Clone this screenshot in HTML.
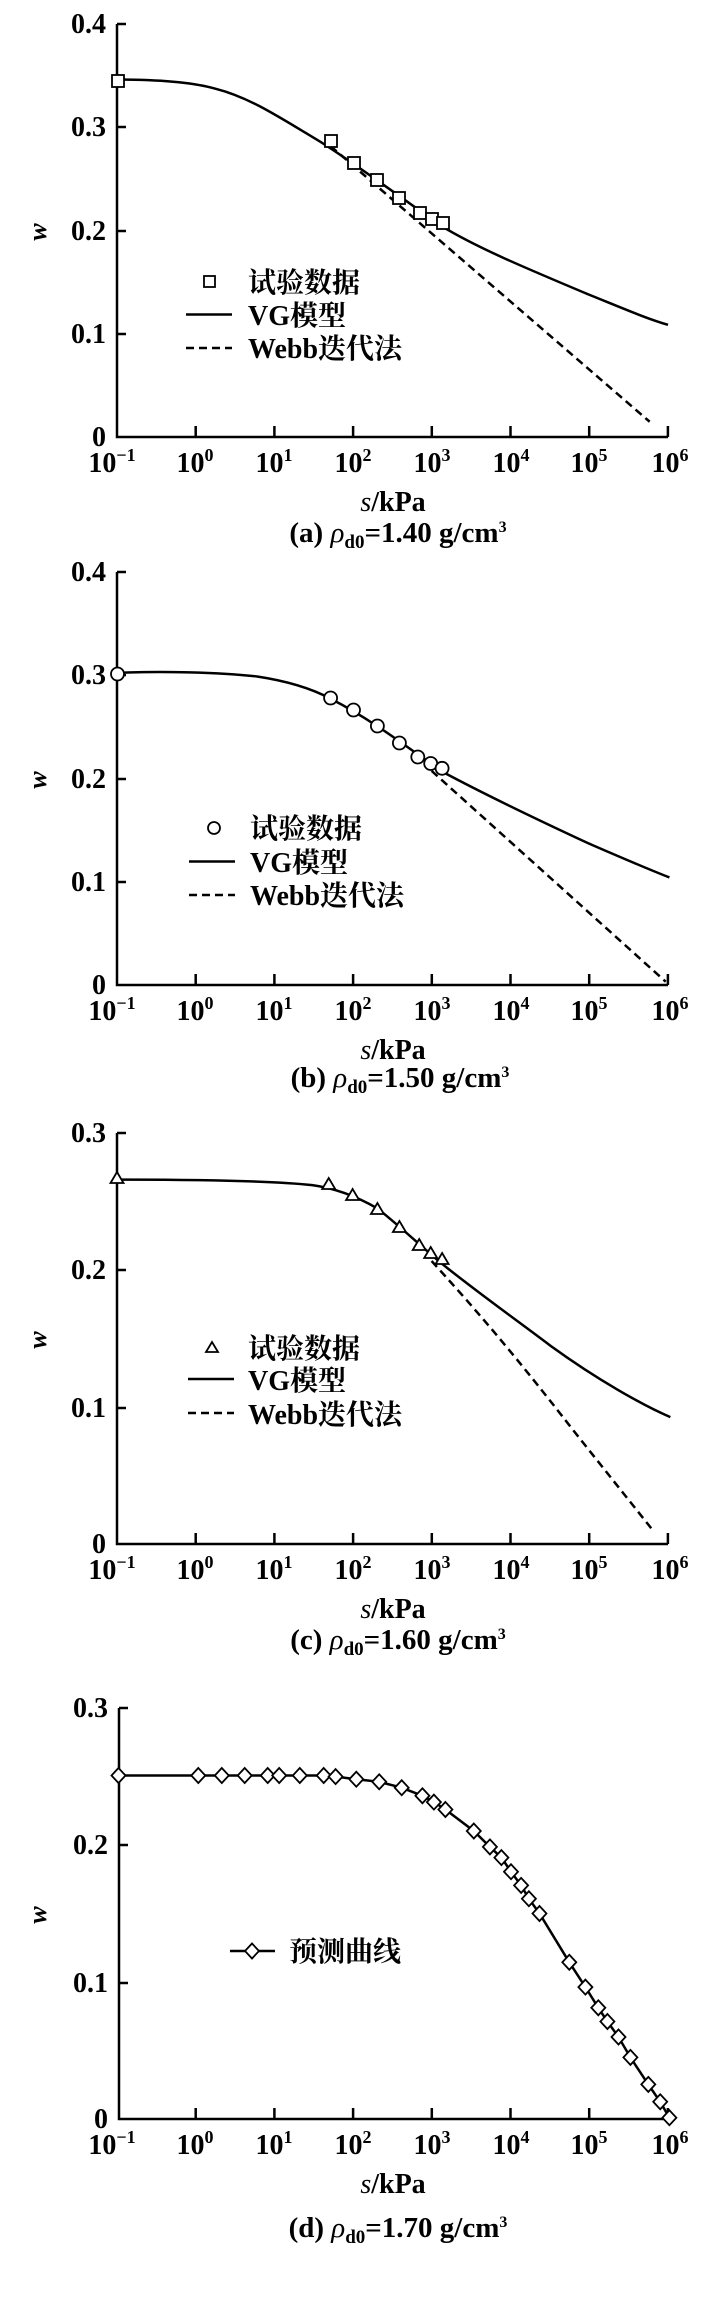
<!DOCTYPE html>
<html><head><meta charset="utf-8"><style>
html,body{margin:0;padding:0;background:#fff;}
svg{display:block;}
text{font-family:"Liberation Serif","Noto Serif CJK SC",serif;font-weight:bold;fill:#000;}
.cjk{font-family:"Liberation Serif","Noto Serif CJK SC","Noto Sans CJK SC",serif;}
.tk{font-size:28px;}
.sup{font-size:18px;}
.ln{fill:none;stroke:#000;stroke-width:2.5;vector-effect:non-scaling-stroke;}
.ds{fill:none;stroke:#000;stroke-width:2.5;stroke-dasharray:8 5;vector-effect:non-scaling-stroke;}
.ax{fill:none;stroke:#000;stroke-width:2.5;}
.mk{fill:#fff;stroke:#000;stroke-width:1.8;}
</style></head><body>
<svg width="720" height="2301" viewBox="0 0 720 2301" xmlns="http://www.w3.org/2000/svg">
<defs>
<g id="xt">
<path class="ax" d="M195.7 0v-11M274.4 0v-11M353.1 0v-11M431.8 0v-11M510.5 0v-11M589.2 0v-11M667.9 0v-11"/>
<g class="tk">
<text x="112" y="35" text-anchor="middle">10<tspan class="sup" dy="-11">−1</tspan></text>
<text x="195" y="35" text-anchor="middle">10<tspan class="sup" dy="-11">0</tspan></text>
<text x="274" y="35" text-anchor="middle">10<tspan class="sup" dy="-11">1</tspan></text>
<text x="353" y="35" text-anchor="middle">10<tspan class="sup" dy="-11">2</tspan></text>
<text x="432" y="35" text-anchor="middle">10<tspan class="sup" dy="-11">3</tspan></text>
<text x="511" y="35" text-anchor="middle">10<tspan class="sup" dy="-11">4</tspan></text>
<text x="589" y="35" text-anchor="middle">10<tspan class="sup" dy="-11">5</tspan></text>
<text x="670" y="35" text-anchor="middle">10<tspan class="sup" dy="-11">6</tspan></text>
</g>
<text x="393" y="74" text-anchor="middle" font-size="28"><tspan font-style="italic" font-weight="normal">s</tspan>/kPa</text>
</g>
</defs>

<!-- Chart a -->
<path class="ax" d="M117 24V437H668M117 24h9M117 127h9M117 231h9M117 334h9"/>
<g class="tk" text-anchor="end">
<text x="106" y="33">0.4</text><text x="106" y="136">0.3</text><text x="106" y="240">0.2</text><text x="106" y="343">0.1</text><text x="106" y="446">0</text>
</g>
<text transform="translate(46,232) rotate(-90)" text-anchor="middle" font-size="26" font-style="italic" font-weight="normal">w</text>
<use href="#xt" y="437"/>
<text x="398" y="542" text-anchor="middle" font-size="29" class="cjk">(a) <tspan font-style="italic" font-weight="normal">ρ</tspan><tspan font-size="19" dy="6">d0</tspan><tspan dy="-6">=1.40 g/cm</tspan><tspan font-size="16" dy="-10">3</tspan></text>
<g transform="scale(0.45914,0.36996)">
<path class="ln" d="M255 215 C340 215 420 222 470 240 C540 262 600 310 700 385 C770 440 870 530 960 610 C1040 670 1140 722 1280 795 C1360 835 1410 862 1455 878"/>
<path class="ds" d="M720 395 L1415 1140"/>
</g>
<g class="mk">
<rect x="112" y="75" width="12" height="12"/><rect x="325" y="135" width="12" height="12"/><rect x="348" y="157" width="12" height="12"/><rect x="371" y="174" width="12" height="12"/><rect x="393" y="192" width="12" height="12"/><rect x="414" y="207" width="12" height="12"/><rect x="426" y="213" width="12" height="12"/><rect x="437" y="217" width="12" height="12"/>
<rect x="204" y="276" width="11" height="11"/>
</g>
<path class="ax" d="M186 314.5h46"/><path class="ax" stroke-dasharray="8 5" d="M186 348h46"/>
<g font-size="28" class="cjk"><text x="248" y="292">试验数据</text><text x="248" y="325">VG模型</text><text x="248" y="358">Webb迭代法</text></g>

<!-- Chart b -->
<path class="ax" d="M117 572V985H668M117 572h9M117 675h9M117 779h9M117 882h9"/>
<g class="tk" text-anchor="end">
<text x="106" y="581">0.4</text><text x="106" y="684">0.3</text><text x="106" y="788">0.2</text><text x="106" y="891">0.1</text><text x="106" y="994">0</text>
</g>
<text transform="translate(46,780) rotate(-90)" text-anchor="middle" font-size="26" font-style="italic" font-weight="normal">w</text>
<use href="#xt" y="985"/>
<text x="400" y="1087" text-anchor="middle" font-size="29" class="cjk">(b) <tspan font-style="italic" font-weight="normal">ρ</tspan><tspan font-size="19" dy="6">d0</tspan><tspan dy="-6">=1.50 g/cm</tspan><tspan font-size="16" dy="-10">3</tspan></text>
<g transform="translate(0,560) scale(0.45914,0.36996)">
<path class="ln" d="M255 305 C350 300 480 303 560 315 C640 330 690 355 720 375 C800 425 870 490 960 570 C1050 630 1150 690 1280 765 C1360 808 1410 835 1458 858"/>
<path class="ds" d="M940 570 L1450 1140"/>
</g>
<g class="mk">
<circle cx="117.5" cy="674" r="6.5"/><circle cx="330.6" cy="698" r="6.5"/><circle cx="353.5" cy="710" r="6.5"/><circle cx="377.4" cy="726" r="6.5"/><circle cx="399.4" cy="743" r="6.5"/><circle cx="417.8" cy="757" r="6.5"/><circle cx="430.7" cy="763.5" r="6.5"/><circle cx="442.1" cy="768.3" r="6.5"/>
<circle cx="214" cy="828" r="6"/>
</g>
<path class="ax" d="M189 861.5h46"/><path class="ax" stroke-dasharray="8 5" d="M189 895h46"/>
<g font-size="28" class="cjk"><text x="250" y="838">试验数据</text><text x="250" y="872">VG模型</text><text x="250" y="905">Webb迭代法</text></g>

<!-- Chart c -->
<path class="ax" d="M117 1133V1544H668M117 1133h9M117 1270h9M117 1408h9"/>
<g class="tk" text-anchor="end">
<text x="106" y="1142">0.3</text><text x="106" y="1279">0.2</text><text x="106" y="1417">0.1</text><text x="106" y="1553">0</text>
</g>
<text transform="translate(46,1340) rotate(-90)" text-anchor="middle" font-size="26" font-style="italic" font-weight="normal">w</text>
<use href="#xt" y="1544"/>
<text x="398" y="1649" text-anchor="middle" font-size="29" class="cjk">(c) <tspan font-style="italic" font-weight="normal">ρ</tspan><tspan font-size="19" dy="6">d0</tspan><tspan dy="-6">=1.60 g/cm</tspan><tspan font-size="16" dy="-10">3</tspan></text>
<g transform="translate(0,1150) scale(0.45914,0.36996)">
<path class="ln" d="M255 80 C450 80 600 84 680 95 C740 105 790 135 822 158 C870 205 915 258 960 305 C1040 385 1120 455 1200 530 C1300 620 1400 690 1460 722"/>
<path class="ds" d="M940 300 C1020 410 1100 520 1250 760 L1420 1025"/>
</g>
<g class="mk">
<path d="M117 1172l6.5 11h-13z"/><path d="M328.7 1178l6.5 11h-13z"/><path d="M352.6 1189l6.5 11h-13z"/><path d="M377.4 1203l6.5 11h-13z"/><path d="M399.4 1221l6.5 11h-13z"/><path d="M419.2 1239l6.5 11h-13z"/><path d="M430.7 1247l6.5 11h-13z"/><path d="M442.1 1253l6.5 11h-13z"/>
<path d="M212 1342l6 10h-12z"/>
</g>
<path class="ax" d="M188 1379h46"/><path class="ax" stroke-dasharray="8 5" d="M188 1413h46"/>
<g font-size="28" class="cjk"><text x="248" y="1358">试验数据</text><text x="248" y="1390">VG模型</text><text x="248" y="1424">Webb迭代法</text></g>

<!-- Chart d -->
<path class="ax" d="M119 1708V2119H668M119 1708h9M119 1845h9M119 1983h9"/>
<g class="tk" text-anchor="end">
<text x="108" y="1717">0.3</text><text x="108" y="1854">0.2</text><text x="108" y="1992">0.1</text><text x="108" y="2128">0</text>
</g>
<text transform="translate(46,1915) rotate(-90)" text-anchor="middle" font-size="26" font-style="italic" font-weight="normal">w</text>
<use href="#xt" y="2119"/>
<text x="398" y="2237" text-anchor="middle" font-size="29" class="cjk">(d) <tspan font-style="italic" font-weight="normal">ρ</tspan><tspan font-size="19" dy="6">d0</tspan><tspan dy="-6">=1.70 g/cm</tspan><tspan font-size="16" dy="-10">3</tspan></text>
<polyline class="ax" points="118.5,1775.5 198.3,1775.5 221.8,1775.5 244.7,1775.5 267.7,1775.5 279.2,1775.5 299.8,1775.5 323.7,1775.5 335.6,1776.6 356.3,1779.2 379.2,1781.8 401.7,1787.7 422.4,1795.8 433.9,1802.1 445.4,1809.5 473.8,1831 489.9,1846.9 501.4,1857.6 511,1871.7 521.1,1885.4 528.9,1898.7 539.5,1913.5 569.3,1962.3 585.4,1987.1 598.3,2007.8 607.4,2021.5 618.5,2037 630.4,2057.4 648.3,2084.4 660.2,2101.8 669.4,2117.7" stroke-width="2.2"/>
<g class="mk">
<path d="M118.5 1768l7 7.5-7 7.5-7-7.5z"/><path d="M198.3 1768l7 7.5-7 7.5-7-7.5z"/><path d="M221.8 1768l7 7.5-7 7.5-7-7.5z"/><path d="M244.7 1768l7 7.5-7 7.5-7-7.5z"/><path d="M267.7 1768l7 7.5-7 7.5-7-7.5z"/><path d="M279.2 1768l7 7.5-7 7.5-7-7.5z"/><path d="M299.8 1768l7 7.5-7 7.5-7-7.5z"/><path d="M323.7 1768l7 7.5-7 7.5-7-7.5z"/><path d="M335.6 1769.1l7 7.5-7 7.5-7-7.5z"/><path d="M356.3 1771.7l7 7.5-7 7.5-7-7.5z"/><path d="M379.2 1774.3l7 7.5-7 7.5-7-7.5z"/><path d="M401.7 1780.2l7 7.5-7 7.5-7-7.5z"/><path d="M422.4 1788.3l7 7.5-7 7.5-7-7.5z"/><path d="M433.9 1794.6l7 7.5-7 7.5-7-7.5z"/><path d="M445.4 1802l7 7.5-7 7.5-7-7.5z"/><path d="M473.8 1823.5l7 7.5-7 7.5-7-7.5z"/><path d="M489.9 1839.4l7 7.5-7 7.5-7-7.5z"/><path d="M501.4 1850.1l7 7.5-7 7.5-7-7.5z"/><path d="M511 1864.2l7 7.5-7 7.5-7-7.5z"/><path d="M521.1 1877.9l7 7.5-7 7.5-7-7.5z"/><path d="M528.9 1891.2l7 7.5-7 7.5-7-7.5z"/><path d="M539.5 1906l7 7.5-7 7.5-7-7.5z"/><path d="M569.3 1954.8l7 7.5-7 7.5-7-7.5z"/><path d="M585.4 1979.6l7 7.5-7 7.5-7-7.5z"/><path d="M598.3 2000.3l7 7.5-7 7.5-7-7.5z"/><path d="M607.4 2014l7 7.5-7 7.5-7-7.5z"/><path d="M618.5 2029.5l7 7.5-7 7.5-7-7.5z"/><path d="M630.4 2049.9l7 7.5-7 7.5-7-7.5z"/><path d="M648.3 2076.9l7 7.5-7 7.5-7-7.5z"/><path d="M660.2 2094.3l7 7.5-7 7.5-7-7.5z"/><path d="M669.4 2110.2l7 7.5-7 7.5-7-7.5z"/>
</g>
<path class="ax" d="M230 1951h45"/>
<path class="mk" d="M252 1943.5l7 7.5-7 7.5-7-7.5z"/>
<text x="289" y="1961" font-size="28" class="cjk">预测曲线</text>
</svg>
</body></html>
